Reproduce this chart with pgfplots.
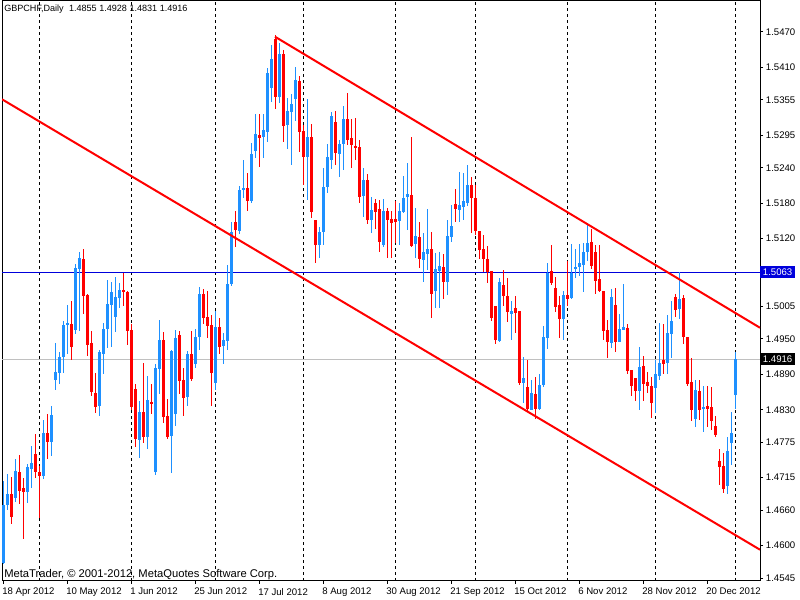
\documentclass[border=0pt]{standalone}
\usepackage{pgfplots}
\pgfplotsset{compat=1.18}
\usepackage{pgfplotstable}
\usepackage{fontspec}
\setmainfont{Liberation Sans}
\definecolor{bullc}{RGB}{30,144,255}
\definecolor{bearc}{RGB}{255,0,0}
\definecolor{hlblue}{RGB}{0,0,220}
\definecolor{bidgray}{RGB}{192,192,192}
\setlength{\fboxsep}{2pt}
\newcommand{\mtfont}{\fontsize{7.2pt}{8pt}\selectfont}
\pgfplotsset{
  candle/.style 2 args={only marks, mark=none, mark size=0pt, mark options={draw=none, fill=none}, forget plot, color=#1,
     error bars/y dir=both, error bars/y explicit, error bars/error mark=none,
     error bars/error bar style={line width=#2, solid, color=#1}},
}
\pgfplotstableread{
i O H L C u
0 1.4570 1.4710 1.4569 1.4669 1
1 1.4669 1.4721 1.4660 1.4687 1
2 1.4687 1.4716 1.4637 1.4649 0
3 1.4681 1.4747 1.4674 1.4727 1
4 1.4725 1.4754 1.4670 1.4693 0
5 1.4697 1.4714 1.4611 1.4690 0
6 1.4690 1.4738 1.4673 1.4733 1
7 1.4730 1.4769 1.4697 1.4740 1
8 1.4756 1.4789 1.4715 1.4725 0
9 1.4725 1.4734 1.4646 1.4718 0
10 1.4718 1.4813 1.4713 1.4791 1
11 1.4791 1.4823 1.4747 1.4776 0
12 1.4776 1.4837 1.4752 1.4821 1
13 1.4881 1.4944 1.4863 1.4894 1
14 1.4893 1.4928 1.4874 1.4920 1
15 1.4919 1.4981 1.4893 1.4974 1
16 1.4974 1.5008 1.4924 1.4977 1
17 1.4976 1.5015 1.4915 1.4937 0
18 1.4965 1.5077 1.4958 1.5071 1
19 1.5068 1.5097 1.4963 1.5087 1
20 1.5086 1.5103 1.4993 1.5023 0
21 1.5025 1.5026 1.4921 1.4940 0
22 1.4943 1.4964 1.4854 1.4861 0
23 1.4858 1.4893 1.4825 1.4834 0
24 1.4836 1.4932 1.4819 1.4928 1
25 1.4925 1.4977 1.4891 1.4967 1
26 1.4967 1.5050 1.4934 1.5010 1
27 1.5008 1.5046 1.4937 1.5030 1
28 1.4988 1.5055 1.4962 1.5022 1
29 1.5020 1.5045 1.5002 1.5033 1
30 1.5033 1.5062 1.5006 1.5029 0
31 1.5029 1.5032 1.4940 1.4963 0
32 1.4965 1.4976 1.4829 1.4835 0
33 1.4866 1.4874 1.4767 1.4781 0
34 1.4779 1.4845 1.4748 1.4827 1
35 1.4826 1.4910 1.4773 1.4784 0
36 1.4784 1.4887 1.4764 1.4846 1
37 1.4844 1.4874 1.4823 1.4840 0
38 1.4724 1.4908 1.4719 1.4901 1
39 1.4899 1.4983 1.4857 1.4949 1
40 1.4948 1.4962 1.4808 1.4818 0
41 1.4819 1.4849 1.4781 1.4784 0
42 1.4785 1.4932 1.4723 1.4929 1
43 1.4823 1.4965 1.4803 1.4952 1
44 1.4956 1.4963 1.4857 1.4879 0
45 1.4880 1.4901 1.4819 1.4850 0
46 1.4852 1.4930 1.4837 1.4924 1
47 1.4925 1.4963 1.4879 1.4883 0
48 1.4908 1.4967 1.4900 1.4953 1
49 1.4953 1.5038 1.4931 1.5027 1
50 1.5027 1.5034 1.4976 1.4986 0
51 1.4988 1.5032 1.4952 1.4972 0
52 1.4974 1.4990 1.4836 1.4892 0
53 1.4875 1.4997 1.4863 1.4971 1
54 1.4971 1.4986 1.4924 1.4937 0
55 1.4939 1.4961 1.4908 1.4948 1
56 1.4947 1.5076 1.4932 1.5043 1
57 1.5043 1.5148 1.5039 1.5131 1
58 1.5149 1.5166 1.5106 1.5134 0
59 1.5133 1.5210 1.5128 1.5203 1
60 1.5203 1.5253 1.5188 1.5205 1
61 1.5205 1.5232 1.5167 1.5184 0
62 1.5184 1.5282 1.5180 1.5264 1
63 1.5268 1.5331 1.5257 1.5297 1
64 1.5295 1.5331 1.5241 1.5291 0
65 1.5292 1.5331 1.5257 1.5304 1
66 1.5301 1.5409 1.5284 1.5401 1
67 1.5376 1.5448 1.5352 1.5425 1
68 1.5459 1.5465 1.5340 1.5360 0
69 1.5360 1.5452 1.5350 1.5433 1
70 1.5432 1.5440 1.5284 1.5311 0
71 1.5312 1.5359 1.5272 1.5336 1
72 1.5335 1.5365 1.5244 1.5348 1
73 1.5356 1.5410 1.5320 1.5388 1
74 1.5387 1.5395 1.5267 1.5301 0
75 1.5302 1.5312 1.5210 1.5258 0
76 1.5259 1.5357 1.5185 1.5292 1
77 1.5292 1.5314 1.5155 1.5165 0
78 1.5151 1.5152 1.5078 1.5110 0
79 1.5109 1.5140 1.5087 1.5131 1
80 1.5131 1.5240 1.5109 1.5207 1
81 1.5207 1.5281 1.5197 1.5258 1
82 1.5254 1.5335 1.5238 1.5327 1
83 1.5318 1.5337 1.5244 1.5265 0
84 1.5264 1.5287 1.5224 1.5281 1
85 1.5281 1.5344 1.5237 1.5323 1
86 1.5323 1.5367 1.5278 1.5287 0
87 1.5291 1.5322 1.5240 1.5278 0
88 1.5276 1.5325 1.5253 1.5275 0
89 1.5276 1.5287 1.5180 1.5191 0
90 1.5193 1.5240 1.5157 1.5219 1
91 1.5219 1.5229 1.5145 1.5151 0
92 1.5151 1.5191 1.5129 1.5168 1
93 1.5180 1.5188 1.5137 1.5165 0
94 1.5170 1.5185 1.5097 1.5114 0
95 1.5109 1.5187 1.5106 1.5166 1
96 1.5167 1.5171 1.5087 1.5152 0
97 1.5153 1.5166 1.5087 1.5147 0
98 1.5154 1.5183 1.5112 1.5149 0
99 1.5149 1.5180 1.5109 1.5167 1
100 1.5165 1.5226 1.5163 1.5189 1
101 1.5191 1.5248 1.5135 1.5196 1
102 1.5194 1.5293 1.5106 1.5107 0
103 1.5111 1.5172 1.5088 1.5124 1
104 1.5123 1.5149 1.5070 1.5085 0
105 1.5084 1.5129 1.5047 1.5098 1
106 1.5094 1.5170 1.5067 1.5102 1
107 1.5102 1.5131 1.4986 1.5026 0
108 1.5032 1.5095 1.5003 1.5068 1
109 1.5065 1.5097 1.5003 1.5074 1
110 1.5072 1.5094 1.5018 1.5046 0
111 1.5047 1.5151 1.5024 1.5124 1
112 1.5123 1.5177 1.5115 1.5141 1
113 1.5179 1.5204 1.5149 1.5170 0
114 1.5168 1.5233 1.5149 1.5177 1
115 1.5173 1.5231 1.5152 1.5183 1
116 1.5181 1.5245 1.5176 1.5210 1
117 1.5211 1.5225 1.5129 1.5189 0
118 1.5189 1.5211 1.5126 1.5133 0
119 1.5133 1.5133 1.5085 1.5100 0
120 1.5103 1.5126 1.5064 1.5085 0
121 1.5085 1.5108 1.5045 1.5064 0
122 1.5065 1.5065 1.4981 1.4986 0
123 1.5005 1.5005 1.4942 1.4948 0
124 1.4946 1.5053 1.4945 1.5046 1
125 1.5042 1.5067 1.5006 1.5023 0
126 1.5023 1.5054 1.4979 1.4996 0
127 1.4993 1.5014 1.4948 1.4997 1
128 1.5002 1.5023 1.4961 1.4994 0
129 1.4997 1.4997 1.4872 1.4875 0
130 1.4876 1.4920 1.4841 1.4884 1
131 1.4869 1.4914 1.4827 1.4832 0
132 1.4829 1.4880 1.4829 1.4858 1
133 1.4857 1.4885 1.4814 1.4832 0
134 1.4832 1.4890 1.4829 1.4872 1
135 1.4872 1.4972 1.4869 1.4954 1
136 1.4952 1.5078 1.4933 1.5061 1
137 1.5065 1.5109 1.5042 1.5045 0
138 1.5036 1.5055 1.4995 1.5005 0
139 1.5007 1.5023 1.4951 1.4984 0
140 1.4984 1.5031 1.4948 1.5024 1
141 1.5024 1.5082 1.5006 1.5018 0
142 1.5020 1.5111 1.5018 1.5061 1
143 1.5068 1.5103 1.5053 1.5072 1
144 1.5072 1.5111 1.5056 1.5078 1
145 1.5075 1.5112 1.5030 1.5097 1
146 1.5097 1.5143 1.5083 1.5112 1
147 1.5114 1.5137 1.5069 1.5073 0
148 1.5097 1.5109 1.5026 1.5048 0
149 1.5051 1.5109 1.5030 1.5031 0
150 1.5031 1.5031 1.4948 1.4963 0
151 1.4965 1.4982 1.4918 1.4945 0
152 1.4943 1.5034 1.4935 1.5021 1
153 1.5007 1.5037 1.4928 1.4945 0
154 1.4945 1.4992 1.4945 1.4967 1
155 1.4966 1.5043 1.4966 1.4970 1
156 1.4969 1.4976 1.4891 1.4896 0
157 1.4898 1.4898 1.4853 1.4870 0
158 1.4884 1.4884 1.4845 1.4862 0
159 1.4862 1.4936 1.4830 1.4903 1
160 1.4904 1.4922 1.4845 1.4873 0
161 1.4877 1.4894 1.4859 1.4870 0
162 1.4871 1.4886 1.4817 1.4841 0
163 1.4867 1.4914 1.4825 1.4891 1
164 1.4887 1.4977 1.4880 1.4910 1
165 1.4914 1.4975 1.4891 1.4908 0
166 1.4909 1.4990 1.4891 1.4960 1
167 1.4959 1.5014 1.4917 1.4980 1
168 1.5021 1.5026 1.4987 1.5000 0
169 1.5000 1.5064 1.4984 1.5018 1
170 1.5019 1.5025 1.4941 1.4953 0
171 1.4953 1.4953 1.4870 1.4874 0
172 1.4877 1.4918 1.4811 1.4830 0
173 1.4814 1.4880 1.4801 1.4863 1
174 1.4862 1.4880 1.4812 1.4830 0
175 1.4832 1.4870 1.4792 1.4835 1
176 1.4836 1.4871 1.4801 1.4831 0
177 1.4834 1.4869 1.4795 1.4811 0
178 1.4802 1.4819 1.4784 1.4787 0
179 1.4743 1.4764 1.4702 1.4733 0
180 1.4734 1.4757 1.4689 1.4696 0
181 1.4701 1.4784 1.4687 1.4760 1
182 1.4773 1.4827 1.4736 1.4791 1
183 1.4855 1.4928 1.4831 1.4916 1
}\ohlc
\begin{document}
\begin{tikzpicture}
\path[use as bounding box] (0,0) rectangle (600pt,450pt);
\begin{axis}[
  at={(1.5pt,14.25pt)}, anchor=south west,
  scale only axis, width=568.5pt, height=435pt,
  xmin=-0.25, xmax=189.25, ymin=1.4540, ymax=1.55225,
  axis line style={black, line width=0.75pt},
  tick style={black, line width=0.75pt},
  xtick pos=left, ytick pos=right,
  xticklabel pos=left, yticklabel pos=right,
  tick align=outside, major tick length=2.25pt,
  scaled y ticks=false,
  every tick label/.append style={font=\mtfont},
  xtick={0,16,32,48,64,80,96,112,128,144,160,176},
  xticklabels={18 Apr 2012,10 May 2012,1 Jun 2012,25 Jun 2012,17 Jul 2012,8 Aug 2012,30 Aug 2012,21 Sep 2012,15 Oct 2012,6 Nov 2012,28 Nov 2012,20 Dec 2012},
  xticklabel style={anchor=north west, inner sep=0pt, xshift=-0.75pt, yshift=-3pt},
  ytick={1.5470,1.5410,1.5355,1.5295,1.5240,1.5180,1.5120,1.5005,1.4950,1.4890,1.4830,1.4775,1.4715,1.4660,1.4600,1.4545},
  yticklabels={1.5470,1.5410,1.5355,1.5295,1.5240,1.5180,1.5120,1.5005,1.4950,1.4890,1.4830,1.4775,1.4715,1.4660,1.4600,1.4545},
  yticklabel style={anchor=west, inner sep=0pt, xshift=2pt},
  extra x ticks={9,32,53,75,98,118,141,163,183},
  extra x tick labels={},
  extra x tick style={grid=major, major tick length=0pt,
     major grid style={black, line width=0.75pt, dash pattern=on 2.25pt off 2.25pt}},
  extra y ticks={1.5063,1.4916},
  extra y tick labels={{\colorbox{hlblue}{\textcolor{white}{1.5063}}},{\colorbox{black}{\textcolor{white}{1.4916}}}},
  extra y tick style={major tick length=0pt, yticklabel style={xshift=-2pt}},
]
\addplot[hlblue, line width=0.75pt, forget plot] coordinates {(-0.25,1.5063) (189.25,1.5063)};
\addplot[bidgray, line width=0.75pt, forget plot] coordinates {(-0.25,1.4916) (189.25,1.4916)};
% wicks
\addplot[candle={bullc}{0.75pt}, restrict expr to domain={\thisrow{u}}{0.5:1.5}] table[x=i, y expr={(\thisrow{H}+\thisrow{L})/2}, y error expr={(\thisrow{H}-\thisrow{L})/2}] {\ohlc};
\addplot[candle={bearc}{0.75pt}, restrict expr to domain={\thisrow{u}}{-0.5:0.5}] table[x=i, y expr={(\thisrow{H}+\thisrow{L})/2}, y error expr={(\thisrow{H}-\thisrow{L})/2}] {\ohlc};
% bodies
\addplot[candle={bullc}{2.25pt}, restrict expr to domain={\thisrow{u}}{0.5:1.5}] table[x=i, y expr={(\thisrow{O}+\thisrow{C})/2}, y error expr={max(abs(\thisrow{C}-\thisrow{O})/2,0.00009)}] {\ohlc};
\addplot[candle={bearc}{2.25pt}, restrict expr to domain={\thisrow{u}}{-0.5:0.5}] table[x=i, y expr={(\thisrow{O}+\thisrow{C})/2}, y error expr={max(abs(\thisrow{C}-\thisrow{O})/2,0.00009)}] {\ohlc};
% channel
\addplot[bearc, line width=1.5pt, forget plot] coordinates {(68,1.5462) (189.25,1.4969)};
\addplot[bearc, line width=1.5pt, forget plot] coordinates {(-0.25,1.5356) (189.25,1.4593)};
\node[anchor=north west, inner sep=0pt, font=\fontsize{6.8pt}{8pt}\selectfont, xshift=1.5pt, yshift=-2.5pt] at (rel axis cs:0,1) {GBPCHF,Daily\hspace{4pt}1.4855 1.4928 1.4831 1.4916};
\node[anchor=south west, inner sep=0pt, font=\fontsize{8.4pt}{9pt}\selectfont, xshift=1.5pt, yshift=1pt] at (rel axis cs:0,0) {MetaTrader, \textcopyright{} 2001-2012, MetaQuotes Software Corp.};
\end{axis}
\end{tikzpicture}
\end{document}
